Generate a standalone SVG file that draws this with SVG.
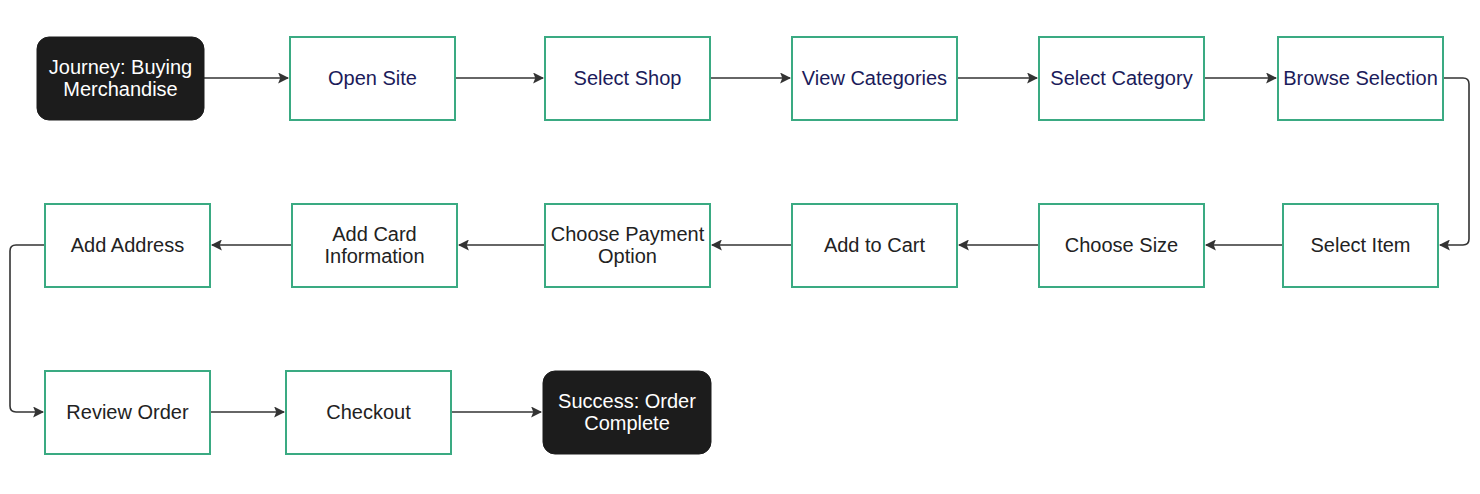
<svg xmlns="http://www.w3.org/2000/svg" width="1480" height="494" viewBox="0 0 1480 494">
<defs>
<marker id="arr" viewBox="0 0 10 10" refX="9" refY="5" markerWidth="11" markerHeight="11" markerUnits="userSpaceOnUse" orient="auto">
<path d="M0,0 L10,5 L0,10 L2,5 Z" fill="#333"/>
</marker>
<style>
.box{fill:#fff;stroke:#3aaa82;stroke-width:2}
.term{fill:#1c1c1c;stroke:#1c1c1c}
text{font-family:"Liberation Sans",Arial,sans-serif;font-size:20px;text-anchor:middle;dominant-baseline:central}
.t1{fill:#1b1b5a}
.t2{fill:#222}
.tw{fill:#fff}
.c{fill:none;stroke:#333;stroke-width:1.6;marker-end:url(#arr)}
</style>
</defs>
<rect width="1480" height="494" fill="#fff"/>
<g id="connectors">
<path class="c" d="M204,78 H288"/>
<path class="c" d="M455,78 H543"/>
<path class="c" d="M710,78 H790"/>
<path class="c" d="M957,78 H1037"/>
<path class="c" d="M1204,78 H1276"/>
<path class="c" d="M1443,78 H1463 Q1469,78 1469,84 V239 Q1469,245 1463,245 H1440"/>
<path class="c" d="M1283,245 H1206"/>
<path class="c" d="M1039,245 H959"/>
<path class="c" d="M792,245 H712"/>
<path class="c" d="M545,245 H459"/>
<path class="c" d="M292,245 H212"/>
<path class="c" d="M45,245 H16 Q10,245 10,251 V406 Q10,412 16,412 H43"/>
<path class="c" d="M210,412 H284"/>
<path class="c" d="M451,412 H541"/>
</g>
<g id="start"><rect class="term" x="37" y="37" width="167" height="83" rx="12"/><text class="tw" x="120.5" y="67">Journey: Buying</text><text class="tw" x="120.5" y="89">Merchandise</text></g>
<g id="open-site"><rect class="box" x="290" y="37" width="165" height="83"/><text class="t1" x="372.5" y="78">Open Site</text></g>
<g id="select-shop"><rect class="box" x="545" y="37" width="165" height="83"/><text class="t1" x="627.5" y="78">Select Shop</text></g>
<g id="view-categories"><rect class="box" x="792" y="37" width="165" height="83"/><text class="t1" x="874.5" y="78">View Categories</text></g>
<g id="select-category"><rect class="box" x="1039" y="37" width="165" height="83"/><text class="t1" x="1121.5" y="78">Select Category</text></g>
<g id="browse-selection"><rect class="box" x="1278" y="37" width="165" height="83"/><text class="t1" x="1360.5" y="78">Browse Selection</text></g>
<g id="select-item"><rect class="box" x="1283" y="204" width="155" height="83"/><text class="t2" x="1360.5" y="245">Select Item</text></g>
<g id="choose-size"><rect class="box" x="1039" y="204" width="165" height="83"/><text class="t2" x="1121.5" y="245">Choose Size</text></g>
<g id="add-to-cart"><rect class="box" x="792" y="204" width="165" height="83"/><text class="t2" x="874.5" y="245">Add to Cart</text></g>
<g id="choose-payment"><rect class="box" x="545" y="204" width="165" height="83"/><text class="t2" x="627.5" y="234">Choose Payment</text><text class="t2" x="627.5" y="256">Option</text></g>
<g id="add-card"><rect class="box" x="292" y="204" width="165" height="83"/><text class="t2" x="374.5" y="234">Add Card</text><text class="t2" x="374.5" y="256">Information</text></g>
<g id="add-address"><rect class="box" x="45" y="204" width="165" height="83"/><text class="t2" x="127.5" y="245">Add Address</text></g>
<g id="review-order"><rect class="box" x="45" y="371" width="165" height="83"/><text class="t2" x="127.5" y="412">Review Order</text></g>
<g id="checkout"><rect class="box" x="286" y="371" width="165" height="83"/><text class="t2" x="368.5" y="412">Checkout</text></g>
<g id="success"><rect class="term" x="543" y="371" width="168" height="83" rx="12"/><text class="tw" x="627" y="401">Success: Order</text><text class="tw" x="627" y="423">Complete</text></g>
</svg>
